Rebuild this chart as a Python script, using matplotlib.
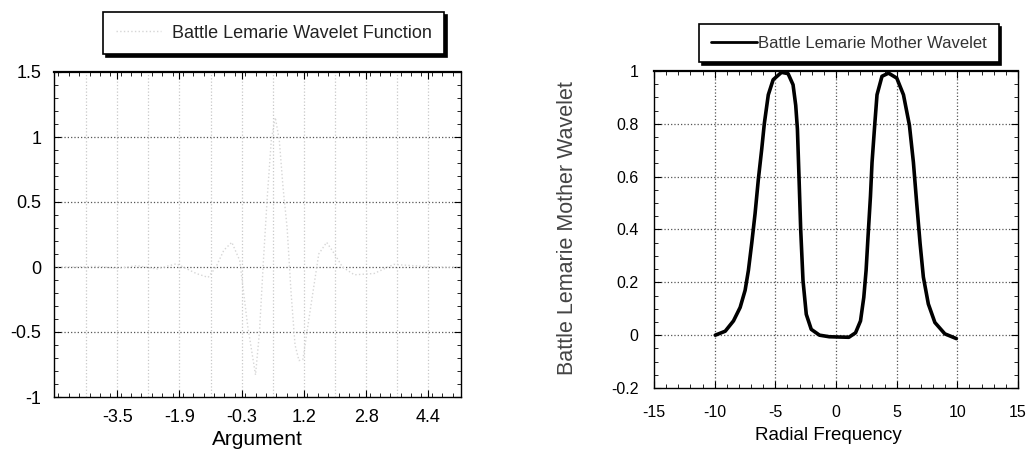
import matplotlib
matplotlib.use("Agg")
import matplotlib.pyplot as plt
from matplotlib.ticker import MultipleLocator, FixedLocator

plt.rcParams['font.family'] = ['Liberation Sans', 'DejaVu Sans']

# ---- Left panel: Battle Lemarie wavelet function (faint, scanned) ----
psi_x = [-5.1, -4.5, -4.0, -3.5, -3.0, -2.5, -2.0, -1.5, -1.2, -1.0, -0.8, -0.6,
         -0.4, -0.2, 0.0, 0.1, 0.2, 0.3, 0.4, 0.5, 0.6, 0.7, 0.8, 0.9, 1.0,
         1.1, 1.2, 1.4, 1.6, 1.8, 2.0, 2.2, 2.5, 3.0, 3.5, 4.0, 4.5, 5.2]
psi_y = [0.0, 0.0, 0.005, -0.01, 0.01, -0.015, 0.025, -0.05, -0.08, 0.0, 0.13, 0.19,
         0.05, -0.45, -0.83, -0.5, 0.05, 0.55, 0.98, 1.15, 0.98, 0.6, 0.3, -0.2, -0.6,
         -0.72, -0.71, -0.3, 0.1, 0.19, 0.1, 0.0, -0.06, -0.05, 0.02, 0.01, 0.0, 0.0]
left_xticks = [-3.5, -1.925, -0.35, 1.225, 2.8, 4.375]
left_xticklabels = ['-3.5', '-1.9', '-0.3', '1.2', '2.8', '4.4']
left_yticks = [-1, -0.5, 0, 0.5, 1, 1.5]
left_yticklabels = ['-1', '-0.5', '0', '0.5', '1', '1.5']

# ---- Right panel: Battle Lemarie mother wavelet spectrum ----
w = [-9.95, -9.13, -8.45, -7.9, -7.49, -7.22, -6.94, -6.67, -6.4, -6.12, -5.91,
     -5.58, -5.18, -4.49, -3.95, -3.54, -3.32, -3.18, -3.05, -2.91, -2.72, -2.45,
     -2.04, -1.36, -0.55, 1.06, 1.61, 2.02, 2.29, 2.48, 2.64, 2.84, 2.97, 3.19,
     3.38, 3.79, 4.33, 5.01, 5.56, 6.05, 6.38, 6.65, 6.93, 7.2, 7.61, 8.15, 8.97, 9.92]
mag = [0.0, 0.015, 0.054, 0.105, 0.17, 0.245, 0.35, 0.46, 0.59, 0.705, 0.80,
       0.91, 0.967, 0.995, 0.99, 0.948, 0.87, 0.78, 0.60, 0.40, 0.207, 0.079,
       0.022, 0.0, -0.006, -0.008, 0.009, 0.054, 0.143, 0.245, 0.373, 0.526, 0.654, 0.795,
       0.91, 0.98, 0.992, 0.973, 0.91, 0.795, 0.654, 0.50, 0.347, 0.22, 0.118, 0.048, 0.005, -0.013]
right_xticks = [-15, -10, -5, 0, 5, 10, 15]
right_yticks = [-0.2, 0, 0.2, 0.4, 0.6, 0.8, 1]
right_yticklabels = ['-0.2', '0', '0.2', '0.4', '0.6', '0.8', '1']

W, H = 1027, 450
fig = plt.figure(figsize=(W / 100, H / 100), dpi=100)
fig.patch.set_facecolor('white')

def fr(l, t, r, b):
    return [l / W, 1 - b / H, (r - l) / W, (b - t) / H]

# Left axes
ax1 = fig.add_axes(fr(54, 72, 461, 397))
ax1.plot(psi_x, psi_y, color='#d6d6d6', lw=1.0, ls=':',
         label='Battle Lemarie Wavelet Function')
ax1.set_xlim(-5.1, 5.2)
ax1.set_ylim(-1, 1.5)
ax1.xaxis.set_major_locator(FixedLocator(left_xticks))
ax1.set_xticklabels(left_xticklabels)
ax1.xaxis.set_minor_locator(MultipleLocator(0.7875 / 3))
ax1.set_yticks(left_yticks)
ax1.set_yticklabels(left_yticklabels)
ax1.yaxis.set_minor_locator(MultipleLocator(0.1))
for g in [x + 0.7875 for x in [-5.075] + left_xticks[:-1]] + left_xticks:
    ax1.axvline(g, color='#c8c8c8', ls=':', lw=0.9, zorder=0)
for g in [-0.5, 0, 0.5, 1]:
    ax1.axhline(g, color='#555555', ls=':', lw=0.9, zorder=0)
ax1.tick_params(axis='both', which='both', direction='in', top=True, right=True)
ax1.tick_params(axis='both', which='major', length=5, width=0.8)
ax1.tick_params(axis='both', which='minor', length=3, width=0.6)
ax1.tick_params(axis='x', which='major', labelsize=13, pad=9)
ax1.tick_params(axis='y', which='major', labelsize=13, pad=9)
ax1.set_xlabel('Argument', fontsize=15, labelpad=0)
ax1.xaxis.set_label_coords(0.5, -0.132)
ax1.xaxis.label.set_verticalalignment('center')
for s in ax1.spines.values():
    s.set_linewidth(1.0)
ax1.spines['top'].set_linewidth(1.6)

leg1 = ax1.legend(loc='upper left', bbox_to_anchor=(103 / W, 1 - 12 / H),
                  bbox_transform=fig.transFigure, fontsize=13, frameon=True,
                  fancybox=False, shadow={'color': 'black', 'alpha': 1},
                  handlelength=2.5, handletextpad=0.6, borderpad=0.7,
                  borderaxespad=0)
leg1.get_frame().set_edgecolor('black')
leg1.get_frame().set_linewidth(1.2)
for t in leg1.get_texts():
    t.set_color('#222222')

# Right axes
ax2 = fig.add_axes(fr(654, 71, 1018, 388))
ax2.plot(w, mag, color='black', lw=2.6, label='Battle Lemarie Mother Wavelet',
         solid_capstyle='round', solid_joinstyle='round')
ax2.set_xlim(-15, 15)
ax2.set_ylim(-0.2, 1)
ax2.set_xticks(right_xticks)
ax2.set_xticklabels([str(v) for v in right_xticks])
ax2.set_yticks(right_yticks)
ax2.set_yticklabels(right_yticklabels)
ax2.xaxis.set_minor_locator(MultipleLocator(1))
ax2.yaxis.set_minor_locator(MultipleLocator(0.05))
for g in [-10, -5, 0, 5, 10]:
    ax2.axvline(g, color='#555555', ls=':', lw=0.9, zorder=0)
for g in [0, 0.2, 0.4, 0.6, 0.8]:
    ax2.axhline(g, color='#555555', ls=':', lw=0.9, zorder=0)
ax2.tick_params(axis='both', which='both', direction='in', top=True, right=True)
ax2.tick_params(axis='both', which='major', length=5, width=0.8)
ax2.tick_params(axis='both', which='minor', length=3, width=0.6)
ax2.tick_params(axis='x', which='major', labelsize=11.5, pad=12)
ax2.tick_params(axis='y', which='major', labelsize=11.5, pad=11)
ax2.set_xlabel('Radial Frequency', fontsize=13.5)
ax2.xaxis.set_label_coords(0.478, -0.15)
ax2.xaxis.label.set_verticalalignment('center')
ax2.set_ylabel('Battle Lemarie Mother Wavelet', fontsize=15.5, color='#444444')
ax2.yaxis.set_label_coords(-0.2376, 0.505)
ax2.yaxis.label.set_verticalalignment('center')
for s in ax2.spines.values():
    s.set_linewidth(1.0)
ax2.spines['top'].set_linewidth(1.6)

leg2 = ax2.legend(loc='upper left', bbox_to_anchor=(699 / W, 1 - 24 / H),
                  bbox_transform=fig.transFigure, fontsize=12, frameon=True,
                  fancybox=False, shadow={'color': 'black', 'alpha': 1},
                  handlelength=2.8, handletextpad=0.05, borderpad=0.7,
                  borderaxespad=0)
leg2.get_frame().set_edgecolor('black')
leg2.get_frame().set_linewidth(1.2)
for line in leg2.get_lines():
    line.set_linewidth(2.0)
for t in leg2.get_texts():
    t.set_color('#333333')

fig.savefig('out.png', dpi=100, facecolor='white')
